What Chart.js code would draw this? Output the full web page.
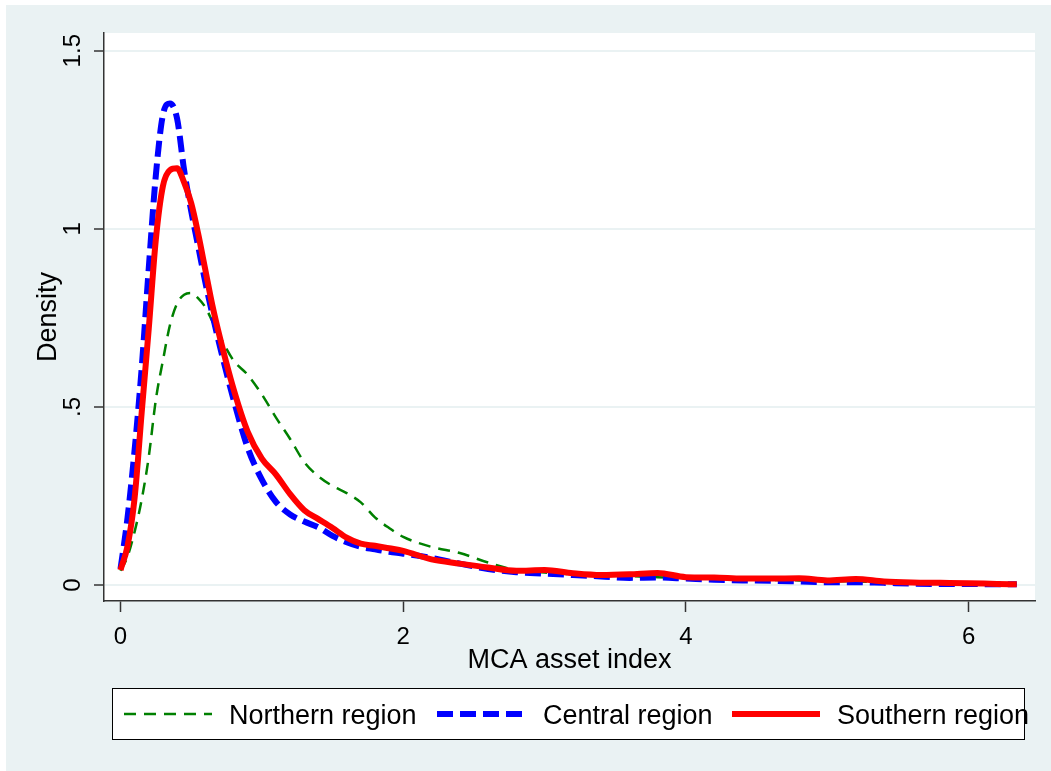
<!DOCTYPE html>
<html><head><meta charset="utf-8">
<script src="https://cdn.jsdelivr.net/npm/chart.js@4.4.0/dist/chart.umd.min.js"></script>
<style>html,body{margin:0;padding:0;background:#fff}#wrap{width:1051px;height:771px}</style>
</head><body><div id="wrap"><canvas id="c" width="1051" height="771"></canvas></div>
<script>
// ---- data ----
const xGrid = [0, 0.05, 0.1, 0.15, 0.2, 0.25, 0.3, 0.35, 0.4, 0.45, 0.5, 0.55, 0.6, 0.65, 0.7,
  0.8, 0.9, 1.0, 1.1, 1.2, 1.3, 1.4, 1.5, 1.6, 1.7, 1.8, 1.9, 2.0,
  2.2, 2.4, 2.6, 2.8, 3.0, 3.2, 3.4, 3.6, 3.8, 4.0, 4.2, 4.4, 4.6, 4.8, 5.0, 5.2, 5.4, 5.6, 5.8, 6.0, 6.2, 6.34];
const northern = [0.04, 0.08, 0.15, 0.24, 0.36, 0.52, 0.63, 0.73, 0.79, 0.815, 0.82, 0.805, 0.78, 0.74, 0.70,
  0.63, 0.59, 0.535, 0.47, 0.41, 0.345, 0.305, 0.278, 0.258, 0.232, 0.19, 0.16, 0.135,
  0.107, 0.09, 0.063, 0.042, 0.035, 0.03, 0.027, 0.025, 0.022, 0.02, 0.018, 0.016, 0.014, 0.013, 0.011, 0.01, 0.008, 0.006, 0.005, 0.004, 0.003, 0.002];
const central = [0.045, 0.19, 0.38, 0.61, 0.89, 1.15, 1.32, 1.352, 1.31, 1.165, 1.05, 0.95, 0.85, 0.76, 0.675,
  0.52, 0.385, 0.296, 0.233, 0.198, 0.178, 0.162, 0.138, 0.12, 0.107, 0.1, 0.093, 0.088,
  0.076, 0.06, 0.045, 0.036, 0.032, 0.028, 0.024, 0.02, 0.021, 0.018, 0.015, 0.013, 0.012, 0.01, 0.008, 0.008, 0.006, 0.004, 0.003, 0.003, 0.002, 0.002];
const southern = [0.042, 0.11, 0.245, 0.485, 0.72, 0.97, 1.12, 1.165, 1.17, 1.13, 1.072, 0.985, 0.885, 0.785, 0.70,
  0.55, 0.43, 0.355, 0.31, 0.255, 0.21, 0.185, 0.16, 0.133, 0.116, 0.11, 0.103, 0.096,
  0.072, 0.06, 0.049, 0.04, 0.042, 0.033, 0.028, 0.03, 0.034, 0.022, 0.021, 0.018, 0.018, 0.019, 0.013, 0.017, 0.01, 0.007, 0.006, 0.005, 0.003, 0.002];
const seriesNames = ['Northern region', 'Central region', 'Southern region'];
const xTickValues = [0, 2, 4, 6];
const xTickLabels = ['0', '2', '4', '6'];
const yTickValues = [0, 0.5, 1, 1.5];
const yTickLabels = ['0', '.5', '1', '1.5'];
const xTitle = 'MCA asset index';
const yTitle = 'Density';

// ---- styling ----
const FONT = '"Liberation Sans", Arial, Helvetica, sans-serif';
const BG = '#EAF2F3';
const AXIS = '#333333';

function pts(ys) { return xGrid.map((x, i) => ({x: x, y: ys[i]})); }

const styles = [
  {color: '#008000', width: 2.5, dash: [12, 8], order: 3},
  {color: '#0000FF', width: 6, dash: [16, 7], order: 2},
  {color: '#FF0000', width: 6, dash: [], order: 1}
];
const seriesValues = [northern, central, southern];

const datasets = seriesNames.map((name, i) => ({
  label: name,
  data: pts(seriesValues[i]),
  borderColor: styles[i].color,
  backgroundColor: styles[i].color,
  borderWidth: styles[i].width,
  borderDash: styles[i].dash,
  order: styles[i].order,
  fill: false,
  pointRadius: 0,
  cubicInterpolationMode: 'monotone'
}));

const bgPlugin = {
  id: 'bg',
  beforeDraw(chart) {
    const {ctx, chartArea: a} = chart;
    ctx.save();
    ctx.fillStyle = '#ffffff';
    ctx.fillRect(0, 0, chart.width, chart.height);
    ctx.fillStyle = BG;
    ctx.fillRect(6, 5, chart.width - 6, chart.height - 5);
    ctx.fillStyle = '#ffffff';
    ctx.fillRect(a.left, a.top, a.right - a.left, a.bottom - a.top);
    ctx.restore();
  }
};

const legendPlugin = {
  id: 'stataLegend',
  afterDraw(chart) {
    const ctx = chart.ctx;
    ctx.save();
    ctx.fillStyle = '#ffffff';
    ctx.fillRect(112.5, 688.5, 912, 51);
    ctx.strokeStyle = '#000000';
    ctx.lineWidth = 1;
    ctx.strokeRect(112.5, 688.5, 912, 51);
    const sampleX = [124, 437, 732];
    const textX = [229, 543, 837];
    const lineY = 714;
    chart.data.datasets.forEach((ds, i) => {
      ctx.beginPath();
      ctx.strokeStyle = ds.borderColor;
      ctx.lineWidth = ds.borderWidth;
      ctx.setLineDash(ds.borderDash);
      ctx.lineCap = 'butt';
      ctx.moveTo(sampleX[i], lineY);
      ctx.lineTo(sampleX[i] + 88, lineY);
      ctx.stroke();
      ctx.setLineDash([]);
      ctx.fillStyle = '#000000';
      ctx.font = '27px ' + FONT;
      ctx.textBaseline = 'alphabetic';
      ctx.textAlign = 'left';
      ctx.fillText(ds.label, textX[i], 724);
    });
    ctx.restore();
  }
};

new Chart(document.getElementById('c'), {
  type: 'line',
  data: {datasets: datasets},
  plugins: [bgPlugin, legendPlugin],
  options: {
    responsive: false,
    animation: false,
    devicePixelRatio: 1,
    layout: {padding: {left: 0, top: 33, right: 16, bottom: 81}},
    plugins: {legend: {display: false}, tooltip: {enabled: false}},
    elements: {point: {radius: 0}, line: {borderCapStyle: 'butt', borderJoinStyle: 'round'}},
    scales: {
      x: {
        type: 'linear', min: -0.1167, max: 6.469,
        afterFit(s) { s.height = 89; },
        afterBuildTicks(s) { s.ticks = xTickValues.map(v => ({value: v})); },
        ticks: {
          callback(v) { const i = xTickValues.indexOf(v); return i >= 0 ? xTickLabels[i] : ''; },
          font: {family: FONT, size: 24}, color: '#000', padding: 11,
          minRotation: 0, maxRotation: 0, autoSkip: false
        },
        grid: {drawOnChartArea: false, drawTicks: true, tickLength: 11, tickColor: AXIS, tickWidth: 1.5},
        border: {display: true, color: AXIS, width: 1.5},
        title: {display: true, text: xTitle, font: {family: FONT, size: 27}, color: '#000', padding: {top: 0, bottom: 13.5}}
      },
      y: {
        type: 'linear', min: -0.0449, max: 1.5497,
        afterFit(s) { s.width = 104; },
        afterBuildTicks(s) { s.ticks = yTickValues.map(v => ({value: v})); },
        ticks: {
          callback(v) { const i = yTickValues.indexOf(v); return i >= 0 ? yTickLabels[i] : ''; },
          font: {family: FONT, size: 24}, color: '#000', padding: 4,
          minRotation: 90, maxRotation: 90, crossAlign: 'center', autoSkip: false
        },
        grid: {drawOnChartArea: true, color: BG, lineWidth: 2, drawTicks: true, tickLength: 10, tickColor: AXIS, tickWidth: 1.5},
        border: {display: true, color: AXIS, width: 1.5},
        title: {display: true, text: yTitle, font: {family: FONT, size: 27}, color: '#000', padding: {top: 32.4, bottom: 0}}
      }
    }
  }
});
</script>
</body></html>
